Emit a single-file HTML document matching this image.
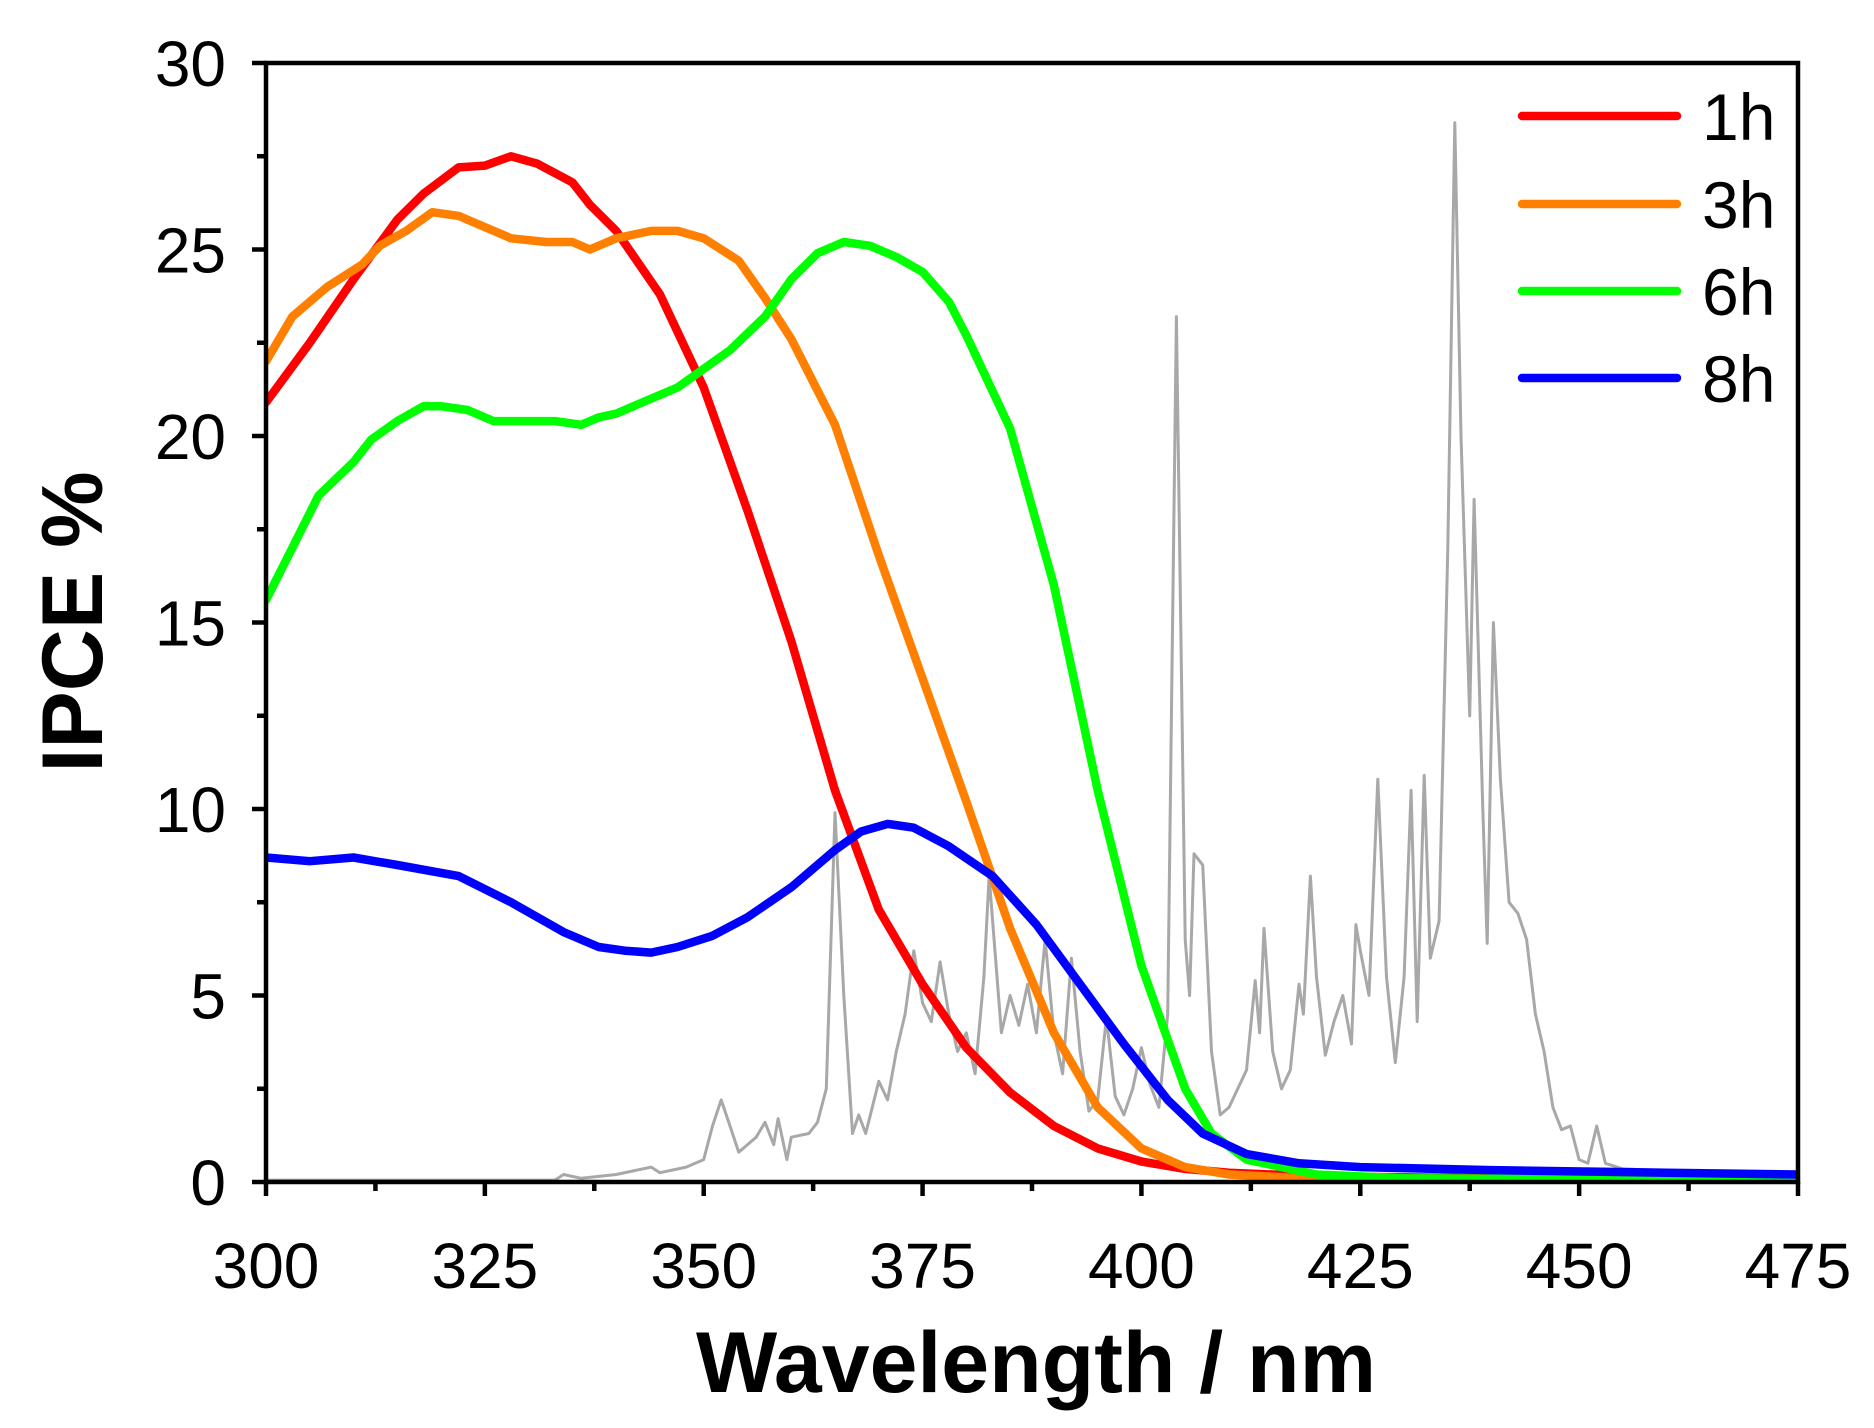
<!DOCTYPE html>
<html><head><meta charset="utf-8"><style>
html,body{margin:0;padding:0;background:#fff;}
svg text{font-family:"Liberation Sans",Arial,sans-serif;}
</style></head><body>
<svg id="chart" width="1874" height="1423" viewBox="0 0 1874 1423" xmlns="http://www.w3.org/2000/svg">
</svg>
<script>
const xTicks=[300,325,350,375,400,425,450,475];
const yTicks=[0,5,10,15,20,25,30];
const seriesNames=["1h","3h","6h","8h"];
const seriesColors=["#ff0000","#ff8000","#00ff00","#0000ff"];
const red=[[300,20.9],[305,22.5],[310,24.2],[315,25.8],[318,26.5],[322,27.2],[325,27.25],[328,27.5],[331,27.3],[335,26.8],[337,26.2],[340,25.5],[345,23.8],[350,21.3],[355,18],[360,14.5],[365,10.5],[370,7.3],[375,5.3],[380,3.6],[385,2.4],[390,1.5],[395,0.9],[400,0.55],[405,0.35],[410,0.25],[420,0.15],[450,0.08],[475,0.05]];
const orange=[[300,22],[303,23.2],[307,24],[311,24.6],[313,25.1],[316,25.5],[319,26.0],[322,25.9],[325,25.6],[328,25.3],[332,25.2],[335,25.2],[337,25.0],[340,25.3],[344,25.5],[347,25.5],[350,25.3],[354,24.7],[357,23.7],[360,22.6],[365,20.3],[370,16.8],[375,13.5],[380,10.2],[385,6.8],[390,4.0],[395,2.0],[400,0.9],[405,0.4],[410,0.2],[420,0.08],[475,0.03]];
const green=[[300,15.6],[303,17],[306,18.4],[310,19.3],[312,19.9],[315,20.4],[318,20.8],[320,20.8],[323,20.7],[326,20.4],[330,20.4],[333,20.4],[336,20.3],[338,20.5],[340,20.6],[343,20.9],[347,21.3],[350,21.8],[353,22.3],[357,23.2],[360,24.2],[363,24.9],[366,25.2],[369,25.1],[372,24.8],[375,24.4],[378,23.6],[380,22.7],[385,20.2],[390,16.0],[395,10.5],[400,5.8],[405,2.5],[408,1.3],[412,0.6],[420,0.2],[430,0.1],[475,0.05]];
const blue=[[300,8.7],[305,8.6],[310,8.7],[315,8.5],[322,8.2],[328,7.5],[334,6.7],[338,6.3],[341,6.2],[344,6.15],[347,6.3],[351,6.6],[355,7.1],[360,7.9],[365,8.9],[368,9.4],[371,9.6],[374,9.5],[378,9.0],[383,8.2],[388,6.9],[393,5.3],[398,3.7],[403,2.2],[407,1.3],[412,0.75],[418,0.5],[425,0.4],[440,0.32],[460,0.25],[475,0.2]];
const lamp=[[300,0.05],[333,0.05],[334,0.2],[336,0.1],[340,0.2],[344,0.4],[345,0.25],[348,0.4],[350,0.6],[351,1.5],[352,2.2],[353,1.5],[354,0.8],[356,1.2],[357,1.6],[358,1.0],[358.5,1.7],[359.5,0.6],[360,1.2],[362,1.3],[363,1.6],[364,2.5],[365,9.9],[366,5],[367,1.3],[367.7,1.8],[368.5,1.3],[370,2.7],[371,2.2],[372,3.5],[373,4.5],[374,6.2],[375,4.8],[376,4.3],[377,5.9],[378,4.5],[379,3.5],[380,4.0],[381,2.9],[382,5.5],[382.6,8.2],[383.5,5.5],[384,4.0],[385,5.0],[386,4.2],[387,5.3],[388,4.0],[389,6.5],[390,4.0],[391,2.9],[392,6.0],[393,3.5],[394,1.9],[395,2.2],[396,4.4],[397,2.3],[398,1.8],[399,2.5],[400,3.6],[401,2.6],[402,2.0],[403,4.5],[404,23.2],[405,6.5],[405.5,5.0],[406,8.8],[407,8.5],[408,3.5],[409,1.8],[410,2.0],[412,3.0],[413,5.4],[413.5,4.0],[414,6.8],[415,3.5],[416,2.5],[417,3.0],[418,5.3],[418.5,4.5],[419.3,8.2],[420,5.5],[421,3.4],[422,4.3],[423,5.0],[424,3.7],[424.5,6.9],[425,6.2],[426,5.0],[427,10.8],[428,5.5],[429,3.2],[430,5.5],[430.8,10.5],[431.5,4.3],[432.3,10.9],[433,6.0],[434,7.0],[435,17],[435.8,28.4],[436.5,20],[437.5,12.5],[438,18.3],[439,10],[439.5,6.4],[440.2,15],[441,10.8],[442,7.5],[443,7.2],[444,6.5],[445,4.5],[446,3.5],[447,2.0],[448,1.4],[449,1.5],[450,0.6],[451,0.5],[452,1.5],[453,0.5],[455,0.35],[460,0.3],[465,0.25],[475,0.2]];

const L=266,R=1798,T=63,B=1182;
const X=v=>L+(v-300)/(475-300)*(R-L);
const Y=v=>B-(v)/30*(B-T);
const svg=document.getElementById('chart');
const NS='http://www.w3.org/2000/svg';
function mk(tag,attrs,parent){const e=document.createElementNS(NS,tag);for(const k in attrs)e.setAttribute(k,attrs[k]);(parent||svg).appendChild(e);return e;}
function pathOf(d){return d.map((p,i)=>(i?'L':'M')+X(p[0]).toFixed(1)+' '+Y(p[1]).toFixed(1)).join(' ');}

const defs=mk('defs',{});
const cp=mk('clipPath',{id:'clip'},defs);
mk('rect',{x:L,y:T,width:R-L,height:B-T},cp);

const g=mk('g',{'clip-path':'url(#clip)'});
const lp=mk('path',{d:pathOf(lamp),fill:'none',stroke:'#a8a8a8','stroke-width':3,'stroke-linejoin':'round'},g);


const all=[red,orange,green,blue];
all.forEach((d,i)=>{
  const p=mk('path',{d:pathOf(d),fill:'none',stroke:seriesColors[i],'stroke-width':8.5,'stroke-linejoin':'round','stroke-linecap':'round'},g);
  
  
});

const fr=mk('rect',{x:L,y:T,width:R-L,height:B-T,fill:'none',stroke:'#000','stroke-width':4.5});



for(let v=300;v<=475;v+=12.5){
  const major=(v%25===0);
  const t=mk('line',{x1:X(v),x2:X(v),y1:B,y2:B+(major?14:9),stroke:'#000','stroke-width':4.5});
  
  
}
xTicks.forEach(v=>{
  const t=mk('text',{x:X(v),y:1288,'font-size':64,'text-anchor':'middle',fill:'#000'});
  t.textContent=v;
  
  
});
for(let v=0;v<=30;v+=2.5){
  const major=(v%5===0);
  const t=mk('line',{x1:L-(major?14:9),x2:L,y1:Y(v),y2:Y(v),stroke:'#000','stroke-width':4.5});
  
  
}
yTicks.forEach(v=>{
  const t=mk('text',{x:226,y:Y(v)+23,'font-size':64,'text-anchor':'end',fill:'#000'});
  t.textContent=v;
  
  
});
const xt=mk('text',{x:1036,y:1392,'font-size':86,'font-weight':'bold','text-anchor':'middle',fill:'#000'});
xt.textContent='Wavelength / nm';


const yt=mk('text',{x:0,y:0,'font-size':86,'font-weight':'bold','text-anchor':'middle',fill:'#000',transform:'translate(102,622) rotate(-90)'});
yt.textContent='IPCE %';



const legY=[116,204,291,378];
seriesNames.forEach((n,i)=>{
  const lg=mk('g',{});
  
  
  mk('line',{x1:1522,x2:1677,y1:legY[i],y2:legY[i],stroke:seriesColors[i],'stroke-width':8.5,'stroke-linecap':'round'},lg);
  const t=mk('text',{x:1702,y:legY[i]+24,'font-size':66,fill:'#000'},lg);
  t.textContent=n;
});
</script>
</body></html>
